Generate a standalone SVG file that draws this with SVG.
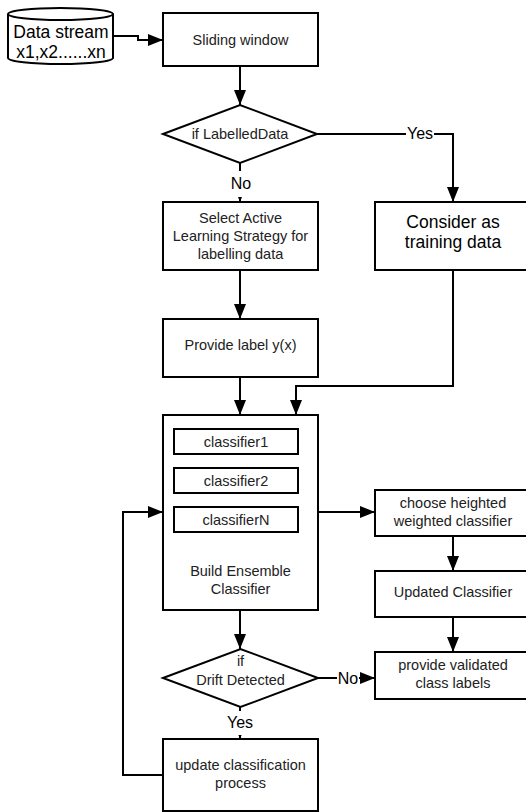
<svg xmlns="http://www.w3.org/2000/svg" width="526" height="812" viewBox="0 0 526 812">
<defs>
<marker id="ah" markerUnits="userSpaceOnUse" markerWidth="15" markerHeight="12" refX="15" refY="6" orient="auto">
<path d="M0,0 L15,6 L0,12 z" fill="#000"/>
</marker>
<style>
.box{fill:#fff;stroke:#000;stroke-width:2}
.t{font-family:"Liberation Sans",Arial,sans-serif;font-size:14.5px;fill:#222;text-anchor:middle}
.big{font-size:17.5px;fill:#000}
.lbl{font-family:"Liberation Sans",Arial,sans-serif;font-size:16px;fill:#000;text-anchor:middle}
.c{fill:none;stroke:#000;stroke-width:2}
.a{marker-end:url(#ah)}
</style>
</defs>
<rect width="526" height="812" fill="#fff"/>
<g id="connectors">
<path class="c a" d="M113,36 H138 V40 H163"/>
<path class="c a" d="M240,66 V105"/>
<path class="c a" d="M317,134 H453 V202"/>
<path class="c a" d="M240,163 V202"/>
<path class="c a" d="M240,270 V319"/>
<path class="c a" d="M240,377 V415"/>
<path class="c a" d="M453,270 V386 H296 V415"/>
<path class="c a" d="M318,512 H375"/>
<path class="c a" d="M453,536 V571"/>
<path class="c a" d="M453,617 V652"/>
<path class="c a" d="M240,610 V649"/>
<path class="c a" d="M318,678 H375"/>
<path class="c a" d="M240,707 V739"/>
<path class="c a" d="M163,775 H123 V512 H163"/>
<rect x="406" y="124" width="28" height="18" fill="#fff"/>
<text class="lbl" x="420" y="139">Yes</text>
<rect x="228" y="171" width="25" height="26" fill="#fff"/>
<text class="lbl" x="241" y="189">No</text>
<rect x="337" y="668" width="22" height="18" fill="#fff"/>
<text class="lbl" x="348" y="684">No</text>
<rect x="225" y="711" width="30" height="24" fill="#fff"/>
<text class="lbl" x="240" y="728">Yes</text>
</g>
<g id="datastream">
<path class="box" d="M8,14 A52.5,6 0 0 1 113,14 V58 A52.5,6 0 0 1 8,58 Z"/>
<path class="c" d="M8,14 A52.5,6 0 0 0 113,14"/>
<text class="t big" x="61" y="38">Data stream</text>
<text class="t big" x="61" y="58">x1,x2......xn</text>
</g>
<g id="sliding">
<rect class="box" x="163" y="13" width="155" height="53"/>
<text class="t" x="240.5" y="45">Sliding window</text>
</g>
<g id="labelled">
<path class="box" d="M163,134 L240,105 L317,134 L240,163 Z"/>
<text class="t" x="240" y="139">if LabelledData</text>
</g>
<g id="select">
<rect class="box" x="163" y="202" width="155" height="68"/>
<text class="t" x="240.5" y="223">Select Active</text>
<text class="t" x="240.5" y="241">Learning Strategy for</text>
<text class="t" x="240.5" y="258.5">labelling data</text>
</g>
<g id="training">
<rect class="box" x="375" y="202" width="156" height="68"/>
<text class="t big" x="453" y="228">Consider as</text>
<text class="t big" x="453" y="248">training data</text>
</g>
<g id="provide">
<rect class="box" x="163" y="319" width="155" height="58"/>
<text class="t" x="240.5" y="350">Provide label y(x)</text>
</g>
<g id="ensemble">
<rect class="box" x="163" y="415" width="155" height="195"/>
<rect class="box" x="174" y="429" width="124" height="25"/>
<text class="t" x="236" y="447">classifier1</text>
<rect class="box" x="174" y="468" width="124" height="25"/>
<text class="t" x="236" y="486">classifier2</text>
<rect class="box" x="174" y="507" width="124" height="25"/>
<text class="t" x="236" y="525">classifierN</text>
<text class="t" x="240.5" y="576">Build Ensemble</text>
<text class="t" x="240.5" y="594">Classifier</text>
</g>
<g id="choose">
<rect class="box" x="375" y="490" width="156" height="46"/>
<text class="t" x="453" y="508">choose heighted</text>
<text class="t" x="453" y="526">weighted classifier</text>
</g>
<g id="updated">
<rect class="box" x="375" y="571" width="156" height="46"/>
<text class="t" x="453" y="597">Updated Classifier</text>
</g>
<g id="validated">
<rect class="box" x="375" y="652" width="156" height="47"/>
<text class="t" x="453" y="670">provide validated</text>
<text class="t" x="453" y="688">class labels</text>
</g>
<g id="drift">
<path class="box" d="M163,678 L240.5,649 L318,678 L240.5,707 Z"/>
<text class="t" x="240.5" y="666">if</text>
<text class="t" x="240.5" y="685">Drift Detected</text>
</g>
<g id="update">
<rect class="box" x="163" y="739" width="155" height="72"/>
<text class="t" x="240.5" y="770">update classification</text>
<text class="t" x="240.5" y="788">process</text>
</g>
</svg>
